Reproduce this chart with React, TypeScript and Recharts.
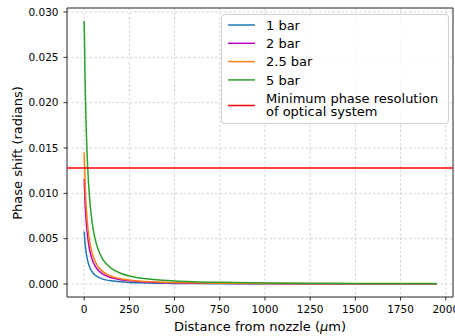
import React from "react";
import { LineChart, Line, XAxis, YAxis, CartesianGrid, ReferenceLine, ReferenceArea } from "recharts";

const distances = [0, 5, 10, 15, 20, 30, 40, 50, 60, 75, 100, 125, 150, 200, 250, 300, 400, 500, 600, 750, 1000, 1250, 1500, 1750, 1950];
const bar1 = [0.0058, 0.0045, 0.00362, 0.00299, 0.00253, 0.00189, 0.00148, 0.0012, 0.001, 0.00079, 0.00057, 0.00043, 0.00035, 0.00024, 0.00018, 0.00014, 0.000092, 0.000067, 0.000052, 0.000038, 0.000025, 0.000018, 0.000014, 0.000011, 0.0000093];
const bar2 = [0.0116, 0.00899, 0.00723, 0.00598, 0.00505, 0.00378, 0.00297, 0.00241, 0.00201, 0.00158, 0.00114, 0.00087, 0.00069, 0.00048, 0.00035, 0.00027, 0.00018, 0.00013, 0.0001, 0.000075, 0.000049, 0.000036, 0.000027, 0.000022, 0.000019];
const bar25 = [0.0145, 0.01124, 0.00904, 0.00747, 0.00631, 0.00473, 0.00371, 0.00301, 0.00251, 0.00197, 0.00142, 0.00109, 0.00086, 0.00059, 0.00044, 0.00034, 0.00023, 0.00017, 0.00013, 0.000094, 0.000062, 0.000045, 0.000034, 0.000027, 0.000023];
const bar5 = [0.029, 0.02248, 0.01808, 0.01495, 0.01263, 0.00945, 0.00742, 0.00602, 0.00501, 0.00395, 0.00284, 0.00217, 0.00173, 0.00119, 0.00088, 0.00069, 0.00046, 0.00034, 0.00026, 0.00019, 0.00012, 0.000089, 0.000068, 0.000054, 0.000046];
const minResolution = 0.0128;

const xTicks = [0, 250, 500, 750, 1000, 1250, 1500, 1750, 2000];
const yTicks = [0, 0.005, 0.01, 0.015, 0.02, 0.025, 0.03];

const seriesNames = ["1 bar", "2 bar", "2.5 bar", "5 bar"];
const seriesColors = ["#1f77b4", "#bf00bf", "#ff7f0e", "#2ca02c"];
const seriesKeys = ["b1", "b2", "b25", "b5"];
const refName = ["Minimum phase resolution", "of optical system"];

const data = distances.map((x, i) => ({ x, b1: bar1[i], b2: bar2[i], b25: bar25[i], b5: bar5[i] }));

const FONT = "'DejaVu Sans', sans-serif";
const X_DOMAIN: [number, number] = [-95, 2040];
const Y_DOMAIN: [number, number] = [-0.00143, 0.03044];

export default function App() {
  const legendRows = [25, 43.3, 61.6, 79.9];
  const textStyle: React.CSSProperties = { fontSize: 13, fontFamily: FONT, fill: "#000" };
  return (
    <div style={{ position: "absolute", left: 0, top: 0, width: 455, height: 336, fontFamily: FONT, background: "#fff" }}>
      <LineChart width={455} height={336} data={data} margin={{ top: 8, right: 2, bottom: 0, left: 0 }}>
        <CartesianGrid stroke="#b8b8b8" strokeWidth={0.6} strokeDasharray="2.5 2" horizontalValues={yTicks} verticalValues={xTicks} />
        <XAxis
          type="number"
          dataKey="x"
          domain={X_DOMAIN}
          ticks={xTicks}
          allowDataOverflow
          height={39}
          axisLine={false}
          tickSize={3.5}
          tickMargin={5}
          tickLine={{ stroke: "#000", strokeWidth: 0.8 }}
          tick={{ fill: "#000", fontSize: 10.5, fontFamily: FONT }}
          interval={0}
        />
        <YAxis
          type="number"
          domain={Y_DOMAIN}
          ticks={yTicks}
          allowDataOverflow
          width={67}
          axisLine={false}
          tickSize={3.5}
          tickMargin={5}
          tickLine={{ stroke: "#000", strokeWidth: 0.8 }}
          tick={{ fill: "#000", fontSize: 10.5, fontFamily: FONT }}
          tickFormatter={(v: number) => v.toFixed(3)}
          interval={0}
        />
        {seriesKeys.map((k, i) => (
          <Line key={k} type="monotone" dataKey={k} stroke={seriesColors[i]} strokeWidth={1.5} dot={false} isAnimationActive={false} />
        ))}
        <ReferenceLine y={minResolution} stroke="#ff0000" strokeWidth={1.5} />
        <ReferenceArea x1={X_DOMAIN[0]} x2={X_DOMAIN[1]} y1={Y_DOMAIN[0]} y2={Y_DOMAIN[1]} fill="none" stroke="#222" strokeWidth={1} />
      </LineChart>

      <div style={{ position: "absolute", left: 260, top: 326, transform: "translate(-50%, -50%)", fontSize: 13, whiteSpace: "nowrap", color: "#000" }}>
        Distance from nozzle (<i>μ</i>m)
      </div>
      <div style={{ position: "absolute", left: 17, top: 152.5, transform: "translate(-50%, -50%) rotate(-90deg)", fontSize: 13, whiteSpace: "nowrap", color: "#000" }}>
        Phase shift (radians)
      </div>

      <svg width={455} height={336} style={{ position: "absolute", left: 0, top: 0 }}>
        <rect x={221.5} y={14.5} width={227} height={109} rx={3} ry={3} fill="#fff" fillOpacity={0.8} stroke="#d0d0d0" strokeWidth={1} />
        {seriesNames.map((n, i) => (
          <g key={n}>
            <line x1={228} x2={255} y1={legendRows[i]} y2={legendRows[i]} stroke={seriesColors[i]} strokeWidth={1.5} />
            <text x={266} y={legendRows[i]} dy="0.36em" style={textStyle}>{n}</text>
          </g>
        ))}
        <line x1={228} x2={255} y1={105.5} y2={105.5} stroke="#ff0000" strokeWidth={1.5} />
        <text x={266} y={98.3} dy="0.36em" style={textStyle}>{refName[0]}</text>
        <text x={266} y={111.5} dy="0.36em" style={textStyle}>{refName[1]}</text>
      </svg>
    </div>
  );
}
